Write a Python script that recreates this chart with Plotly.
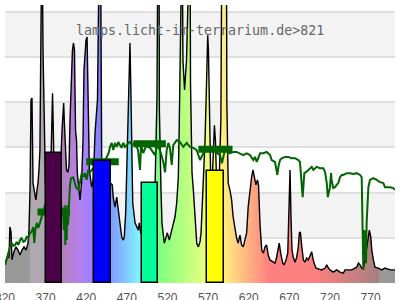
import plotly.graph_objects as go

# ---------------- data ----------------
spec_nm = [320, 322.5, 325, 326, 327.4, 328.6, 331, 333.5, 336, 338.5, 341, 343.4, 346, 348.3, 349.5,
           350.8, 352, 353.2, 354.5, 355.7, 358, 359.4, 360.6, 361.8, 363, 363.7, 364.7, 365.5, 366.8,
           367.4, 368.4, 369.8, 373, 376.6, 377.5, 378.5, 379.4, 380.3, 384, 387.7, 390.2, 391.4, 392.2,
           393.2, 394.5, 395.7, 397.5, 398.8, 400, 401.8, 403, 404.3, 405.5, 406.8, 408, 409, 411, 412.3,
           414.2, 416, 417.2, 419.7, 421, 422.2, 422.8, 423.8, 426.7, 428.7, 430.8, 432.9, 433.8, 436.3,
           437.5, 439, 441.8, 446.8, 450, 452, 453.2, 455.3, 457.5, 459.5, 461.5, 463.6, 465.6, 466.8,
           468.5, 469.8, 471.8, 473, 473.8, 474.7, 475.7, 477.2, 480, 482, 484, 485.3, 487, 492.3, 498.5,
           504.6, 506.5, 507, 508.3, 509.5, 510, 510.8, 512, 513.2, 514.8, 516, 519.8, 522.2, 525.2,
           527.1, 529.2, 531.3, 533.3, 534.5, 535.4, 536.6, 538, 539, 541, 543.4, 545.8, 547.7, 548.3,
           549, 550.2, 551.8, 553.8, 555, 556, 558, 560, 561.3, 562.8, 565, 566.2, 567.4, 568.6, 569.5,
           570.4, 571.5, 573, 574.8, 576.5, 577.7, 579, 580.5, 583.3, 585.7, 587, 592.5, 593, 593.7,
           594.7, 596.8, 598.9, 600.8, 603, 605, 607, 609.2, 611.2, 613.2, 615.3, 617.4, 619.3, 621.5,
           623.5, 625.2, 627, 628.8, 630.7, 632, 633.9, 636, 638, 640, 642, 644, 646, 650.2, 652.3,
           654.3, 656.3, 657.5, 659.3, 661.8, 663.4, 665.8, 668, 669.2, 670, 670.8, 672, 673.2, 674.8,
           677, 679, 681, 682.3, 683.5, 685.3, 687.2, 689.2, 691.3, 693.3, 695.4, 697.5, 698.7, 700.3,
           702.8, 705.6, 709.8, 714, 716, 718, 720, 724, 728.2, 732.3, 736.4, 738.5, 742.5, 746.7, 750.8,
           752.8, 755, 757, 759, 761, 763, 765, 767.2, 768.4, 770.2, 771.4, 773.4, 775.4, 779.5, 783.6,
           787.7, 794, 800]
spec_val = [0.40, 0.55, 0.57, 1.24, 1.13, 0.51, 0.69, 0.80, 0.73, 0.62, 0.73, 0.80, 0.73, 0.88, 1.17,
            2.06, 4.05, 4.09, 2.21, 2.06, 1.84, 2.06, 2.21, 2.50, 2.94, 4.49, 5.15, 8.0, 5.15,
            4.49, 2.87, 2.17, 1.95, 2.72, 3.43, 4.20, 3.43, 2.61, 1.84, 2.28, 3.38, 3.83, 3.98,
            3.49, 2.72, 2.50, 2.45, 2.61, 3.60, 4.71, 5.15, 5.31, 5.15, 3.38, 3.16, 2.43, 2.10, 1.84,
            2.21, 3.16, 4.71, 5.37, 5.44, 4.49, 3.60, 2.50, 2.12, 2.28, 3.32, 3.89, 4.05, 8.0,
            8.0, 2.72, 2.17, 2.17, 2.21, 2.17, 1.90, 1.68, 1.90, 1.61, 1.33, 1.02, 0.95, 1.02,
            1.55, 2.43, 3.54, 4.49, 5.31, 4.49, 2.94, 1.77, 1.33, 1.24, 1.17, 1.33, 1.11, 1.17, 1.50,
            2.06, 3.60, 4.05, 8.0, 8.0, 3.83, 2.79, 2.06, 1.33, 0.95, 0.88, 1.11, 0.95, 1.17,
            1.33, 1.46, 1.77, 2.34, 3.54, 4.93, 8.0, 8.0, 4.93, 4.27, 4.93, 8.0, 8.0, 4.42,
            3.54, 2.43, 2.06, 1.55, 1.17, 0.88, 0.80, 0.91, 1.11, 1.68, 2.43, 3.16, 3.98, 5.15, 5.48,
            5.15, 3.60, 2.50, 2.17, 3.16, 3.49, 3.16, 2.17, 2.06, 3.60, 8.0, 8.0, 4.05, 2.79,
            2.21, 2.06, 1.84, 1.46, 1.17, 1.00, 0.88, 1.06, 0.84, 0.80, 0.95, 1.11, 1.68, 2.06,
            2.34, 2.50, 2.28, 2.17, 2.28, 2.17, 1.28, 0.73, 0.66, 0.80, 0.84, 0.62, 0.51, 0.46, 0.44,
            0.57, 0.73, 0.88, 0.66, 0.44, 0.40, 0.51, 0.66, 1.46, 2.28, 2.50, 1.46, 0.73, 0.57,
            0.46, 0.57, 0.80, 1.11, 1.13, 0.80, 0.51, 0.46, 0.55, 0.51, 0.62, 0.69, 0.57, 0.44,
            0.33, 0.31, 0.29, 0.33, 0.40, 0.33, 0.29, 0.24, 0.29, 0.24, 0.22, 0.29, 0.29, 0.29, 0.33,
            0.35, 0.44, 0.40, 0.33, 0.33, 0.51, 0.80, 1.11, 1.17, 1.02, 0.73, 0.51, 0.35, 0.33, 0.29,
            0.33, 0.29, 0.29]

trans_nm = [320, 322.5, 323.7, 326.2, 328.6, 330.2, 332.3, 334.4, 336.4, 338.5, 340.5, 342.5, 344.6,
            346.7, 348.7, 350.8, 352.8, 354.8, 356, 357.3, 359, 361, 363, 365.2, 366.8, 369.2, 381.5,
            391.4, 392.6, 393.5, 394.2, 395, 395.9, 396.7, 397.5, 398.8, 400, 401.2, 404, 407.4, 410.2,
            412.3, 414.4, 416.4, 418.5, 420.5, 422.5, 424.6, 428.7, 437, 443, 445.5, 448, 449.2, 451.3,
            453.3, 455.3, 457.5, 459.5, 461.5, 463.6, 465.6, 467.7, 469.8, 471.8, 473.8, 476.3, 480,
            483.7, 486.2, 487.4, 490.2, 493.5, 498.5, 504.6, 507, 510.8, 514.8, 517, 519, 521, 523,
            525.2, 527.1, 531.3, 535.4, 539.5, 543.6, 547.7, 551.8, 556, 560, 566.2, 572.3, 578.5,
            584.6, 587, 590.6, 596.8, 600.9, 605, 609.2, 613.2, 617.4, 621.5, 625.6, 627.7, 629.8, 634,
            638, 642.1, 646.2, 648.2, 652.3, 654.4, 655.2, 656.5, 658.5, 660.6, 664.6, 668.7, 672.8,
            677, 681, 683, 685.1, 686.4, 687.2, 688.4, 690.5, 693.3, 695.4, 697.5, 699.5, 703.7, 707.7,
            711.8, 714, 716, 717.3, 718.9, 720, 721.3, 722, 724, 726.2, 728.2, 730.2, 732.3, 734.4,
            736.4, 740.6, 744.6, 748.7, 752.8, 757, 759, 759.8, 760.3, 761, 762.2, 763, 764.3, 765.1,
            765.9, 767.2, 769.2, 773.3, 777.5, 781.5, 785.6, 787.7, 794, 798, 800]
trans_val = [0.40, 0.57, 0.62, 0.80, 0.88, 0.82, 0.84, 0.91, 0.84, 0.95, 1.00, 0.91, 0.93,
             1.02, 1.00, 1.11, 1.13, 1.24, 0.88, 1.17, 1.33, 1.22, 1.33, 1.46, 1.57, 1.72, 1.95,
             1.61, 1.17, 1.72, 0.84, 1.61, 0.95, 1.72, 1.28, 1.84, 2.17, 2.32, 2.34, 2.12, 2.06,
             2.23, 2.43, 2.34, 2.43, 2.28, 2.50, 2.45, 2.54, 2.61, 2.72, 2.79, 2.90, 3.01, 3.10,
             2.94, 3.10, 3.01, 3.12, 3.05, 2.99, 3.10, 3.01, 3.05, 3.10, 3.12, 3.05, 3.10,
             2.94, 2.50, 3.05, 2.87, 3.03, 2.99, 2.83, 3.05, 2.94, 2.68, 2.45, 2.94, 3.10, 2.99,
             2.61, 3.05, 3.16, 3.12, 3.01, 3.10, 3.01, 2.99, 2.94, 2.72, 2.94, 2.99, 2.90,
             2.83, 2.65, 2.94, 2.87, 2.90, 2.90, 2.87, 2.83, 2.87, 2.83, 2.72, 2.79, 2.68, 2.87,
             2.87, 2.90, 2.83, 2.72, 2.68, 2.50, 2.39, 2.57, 2.72, 2.76, 2.79, 2.79, 2.76,
             2.76, 2.72, 2.68, 2.28, 1.90, 2.12, 2.43, 2.45, 2.50, 2.54, 2.57, 2.50, 2.57, 2.54,
             2.54, 2.45, 2.21, 1.90, 2.06, 2.12, 2.43, 2.28, 2.10, 2.12, 2.17, 2.21, 2.34, 2.39,
             2.39, 2.43, 2.43, 2.41, 2.43, 2.39, 2.34, 1.33, 0.33, 0.29, 1.17, 0.95, 0.44, 1.33,
             1.84, 2.12, 2.28, 2.32, 2.28, 2.23, 2.21, 2.12, 2.12, 2.10, 2.06]

band_center = [380, 440, 498, 579]
band_width = [20, 20, 20, 20]
band_value = [2.88, 2.70, 2.21, 2.48]
band_color = ["#4b0048", "#0000ff", "#00ff99", "#ffff00"]
band_avg = [1.57, 2.68, 3.08, 2.96]
avg_width = [40, 40, 40, 42]

title_text = "lamps.licht-im-terrarium.de>821"
tick_vals = [320, 370, 420, 470, 520, 570, 620, 670, 720, 770]
X_MIN, X_MAX = 320, 800
Y_MAX = 6.15


# ---------------- styling helpers ----------------
def wl_rgb(w):
    if w < 351 or w >= 780:
        return (153, 153, 153)
    if w < 380:
        return (176, 168, 176)
    if w < 440:
        r, g, b = -(w - 440) / 60, 0, 1
    elif w < 490:
        r, g, b = 0, (w - 440) / 50, 1
    elif w < 510:
        r, g, b = 0, 1, -(w - 510) / 20
    elif w < 580:
        r, g, b = (w - 510) / 70, 1, 0
    elif w < 645:
        r, g, b = 1, -(w - 645) / 65, 0
    else:
        r, g, b = 1, 0, 0
    if w < 420:
        f = 0.3 + 0.7 * (w - 380) / 40
    elif w <= 700:
        f = 1.0
    else:
        f = 0.3 + 0.7 * (780 - w) / 80
    return tuple(int(round(255 * (0.5 + 0.5 * c * f))) for c in (r, g, b))


def pos(w):
    return (w - X_MIN) / (X_MAX - X_MIN)


def rgb(c):
    return "rgb(%d,%d,%d)" % c


cs = [[0.0, rgb(wl_rgb(320))], [pos(351) - 1e-4, rgb(wl_rgb(320))], [pos(351), rgb(wl_rgb(360))],
      [pos(380) - 1e-4, rgb(wl_rgb(360))]]
w = 380
while w < 780:
    cs.append([pos(w), rgb(wl_rgb(w))])
    w += 5
cs.append([pos(780) - 1e-4, rgb(wl_rgb(779.9))])
cs.append([pos(780), rgb(wl_rgb(790))])
cs.append([1.0, rgb(wl_rgb(790))])

fig = go.Figure()

fig.add_trace(go.Scatter(
    x=spec_nm, y=spec_val, mode="lines", fill="tozeroy",
    fillgradient=dict(type="horizontal", colorscale=cs, start=X_MIN, stop=X_MAX),
    line=dict(color="black", width=1.4), hoverinfo="skip", showlegend=False))

fig.add_trace(go.Scatter(
    x=trans_nm, y=trans_val, mode="lines",
    line=dict(color="#006400", width=2), hoverinfo="skip", showlegend=False))

seg_x, seg_y = [], []
for c, wd, v in zip(band_center, avg_width, band_avg):
    seg_x += [c - wd / 2, c + wd / 2, None]
    seg_y += [v, v, None]
fig.add_trace(go.Scatter(x=seg_x, y=seg_y, mode="lines",
                         line=dict(color="#006400", width=7), hoverinfo="skip", showlegend=False))

fig.add_trace(go.Bar(x=band_center, y=band_value, width=band_width,
                     marker=dict(color=band_color, line=dict(color="black", width=1.5)),
                     zorder=1, showlegend=False, hoverinfo="skip"))

shapes = []
for lo in (1, 3, 5):
    shapes.append(dict(type="rect", xref="paper", yref="y", x0=0, x1=1, y0=lo, y1=lo + 1,
                       fillcolor="#f3f3f3", line=dict(width=0), layer="below"))

fig.update_layout(
    width=400, height=300,
    margin=dict(l=5, r=5, t=5, b=17, autoexpand=False),
    paper_bgcolor="white", plot_bgcolor="white",
    shapes=shapes,
    showlegend=False,
    bargap=0,
    xaxis=dict(range=[X_MIN - 0.01, X_MAX], tickvals=tick_vals, ticktext=[str(t) for t in tick_vals],
               automargin=False, ticklabelstandoff=3, ticklabeloverflow="allow",
               showgrid=False, zeroline=False, showline=True, mirror=True, linecolor="#dddddd",
               linewidth=1.5, ticks="", tickfont=dict(family="Liberation Sans, Arial", size=12, color="#555555")),
    yaxis=dict(range=[0, Y_MAX], dtick=1, tick0=0, showticklabels=False, showgrid=True, automargin=False,
               gridcolor="#e0e0e0", gridwidth=1.5, zeroline=False, showline=True, mirror=True,
               linecolor="#dddddd", linewidth=1.5, ticks=""),
    annotations=[dict(text=title_text, xref="paper", yref="paper", x=0.5, y=0.907, xanchor="center",
                      yanchor="middle", showarrow=False,
                      font=dict(family="DejaVu Sans Mono", size=13.3, color="#666666"))],
)

fig.write_html("out.html")
